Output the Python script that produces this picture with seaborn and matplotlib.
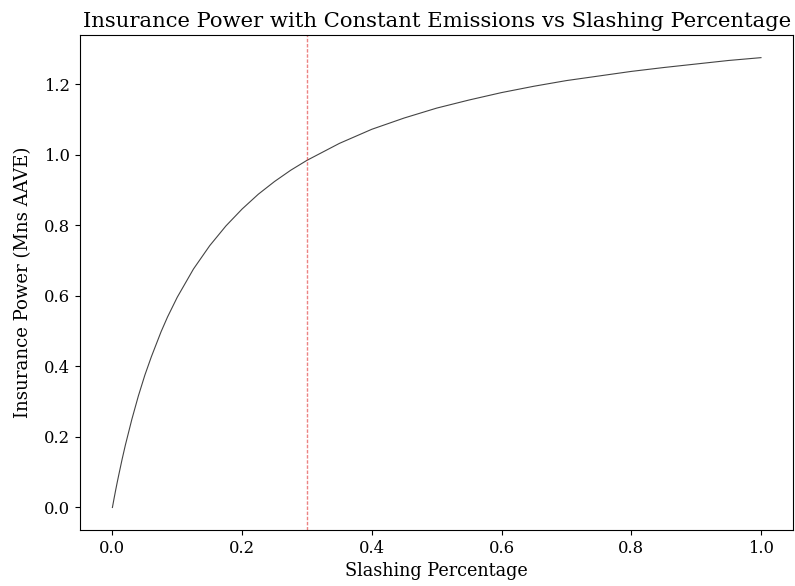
import matplotlib
matplotlib.use("Agg")
import matplotlib.pyplot as plt
import seaborn as sns

# values
slashing_pct = [0.0, 0.0025, 0.005, 0.0075, 0.01, 0.015, 0.02, 0.03, 0.04, 0.05,
                0.06, 0.075, 0.085, 0.1, 0.125, 0.15, 0.175, 0.2, 0.225, 0.25,
                0.275, 0.3, 0.35, 0.4, 0.45, 0.5, 0.55, 0.6, 0.65, 0.7,
                0.75, 0.8, 0.85, 0.9, 0.95, 1.0]
insurance_power = [0.0, 0.025, 0.049, 0.072, 0.094, 0.137, 0.177, 0.25, 0.316, 0.375,
                   0.427, 0.498, 0.54, 0.596, 0.676, 0.742, 0.798, 0.846, 0.888, 0.924,
                   0.956, 0.984, 1.032, 1.072, 1.104, 1.132, 1.155, 1.176, 1.194, 1.21,
                   1.223, 1.236, 1.247, 1.257, 1.267, 1.275]
chosen_pct = 0.3

plt.rcParams['font.family'] = ['DejaVu Serif']
plt.rcParams['font.size'] = 11.8

fig, ax = plt.subplots(figsize=(7.95, 5.86), dpi=100)
sns.lineplot(x=slashing_pct, y=insurance_power, color='#444444', linewidth=0.8, ax=ax)
ax.axvline(chosen_pct, color='#e03030', alpha=0.6, linestyle='--', linewidth=1.0, dashes=(2.5, 1.2))

ax.set_title('Insurance Power with Constant Emissions vs Slashing Percentage', fontsize=15.2)
ax.set_xlabel('Slashing Percentage', fontsize=12.7)
ax.set_ylabel('Insurance Power (Mns AAVE)', fontsize=13.1, labelpad=9)

fig.subplots_adjust(left=0.1006, right=0.998, top=0.940, bottom=0.0956)
fig.savefig('out.png', dpi=100)
